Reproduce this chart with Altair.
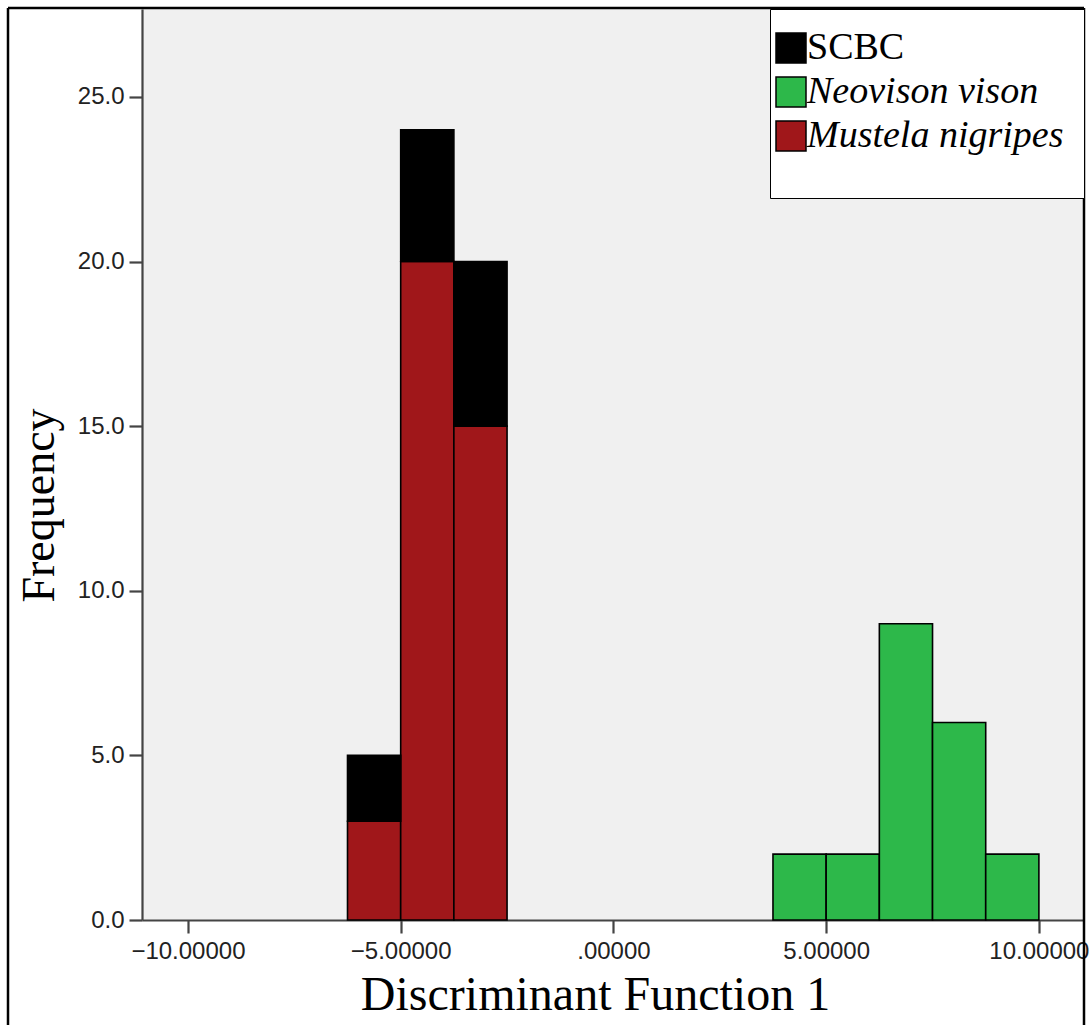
import altair as alt
import pandas as pd

# ---- data ----
bin_width = 1.25
mustela_starts = [-6.25, -5.0, -3.75]
mustela_counts = [3, 20, 15]
scbc_counts = [2, 4, 5]           # stacked on top of Mustela nigripes
neovison_starts = [3.75, 5.0, 6.25, 7.5, 8.75]
neovison_counts = [2, 2, 9, 6, 2]

species = ["SCBC", "Neovison vison", "Mustela nigripes"]
colors = ["#000000", "#2DB84A", "#A0171A"]

x_ticks = [-10, -5, 0, 5, 10]
y_ticks = [0, 5, 10, 15, 20, 25]
x_domain = [-11.08, 11.06]
y_domain = [0, 27.67]

rows = []
for s, c in zip(mustela_starts, mustela_counts):
    rows.append(dict(species="Mustela nigripes", x0=s, x1=s + bin_width, y0=0, y1=c))
for s, c, b in zip(mustela_starts, scbc_counts, mustela_counts):
    rows.append(dict(species="SCBC", x0=s, x1=s + bin_width, y0=b, y1=b + c))
for s, c in zip(neovison_starts, neovison_counts):
    rows.append(dict(species="Neovison vison", x0=s, x1=s + bin_width, y0=0, y1=c))
df = pd.DataFrame(rows)

W, H = 942, 911

bars = alt.Chart(df).mark_rect(stroke="black", strokeWidth=1.6).encode(
    x=alt.X(
        "x0:Q",
        scale=alt.Scale(domain=x_domain, nice=False, zero=False),
        axis=alt.Axis(
            values=x_ticks,
            labelExpr="datum.value == 0 ? '.00000' : format(datum.value, '.5f')",
            title="Discriminant Function 1",
            titleFont="Liberation Serif",
            titleFontSize=48,
            titleFontWeight="normal",
            titleColor="black",
            titlePadding=8,
            titleX=453,
            labelFlush=False,
            labelPadding=6,
        ),
    ),
    x2="x1:Q",
    y=alt.Y(
        "y0:Q",
        scale=alt.Scale(domain=y_domain, nice=False),
        axis=alt.Axis(
            values=y_ticks,
            format=".1f",
            title="Frequency",
            titleFont="Liberation Serif",
            titleFontSize=46,
            titleFontWeight="normal",
            titleColor="black",
            titlePadding=14,
            titleY=496,
            labelPadding=5,
        ),
    ),
    y2="y1:Q",
    color=alt.Color(
        "species:N",
        scale=alt.Scale(domain=species, range=colors),
        legend=alt.Legend(
            title=" ",
            titleOrient="bottom",
            titleFontSize=18,
            orient="top-right",
            offset=0,
            fillColor="white",
            strokeColor="black",
            padding=20,
            symbolType="square",
            symbolSize=900,
            symbolStrokeColor="black",
            symbolStrokeWidth=1.5,
            symbolOpacity=1,
            symbolOffset=-18,
            labelOffset=alt.ExprRef("-3"),
            labelFont="Liberation Serif",
            labelFontSize=38,
            labelColor="black",
            labelFontStyle=alt.ExprRef("datum.label == 'SCBC' ? 'normal' : 'italic'"),
            labelLimit=0,
            rowPadding=6,
        ),
    ),
)

frame_df = pd.DataFrame({"k": [0]})
frame_left = alt.Chart(frame_df).mark_rule(color="black", strokeWidth=2.5).encode(
    x=alt.value(-134), y=alt.value(-1), y2=alt.value(1020)
)
frame_top = alt.Chart(frame_df).mark_rule(color="black", strokeWidth=2.5).encode(
    x=alt.value(-134), x2=alt.value(942), y=alt.value(-1)
)
frame_right = alt.Chart(frame_df).mark_rule(color="black", strokeWidth=2.5).encode(
    x=alt.value(942), y=alt.value(-1), y2=alt.value(1020)
)

chart = (
    alt.layer(bars, frame_left, frame_top, frame_right)
    .properties(
        width=W,
        height=H,
        autosize=alt.AutoSizeParams(type="none"),
        padding={"left": 142, "top": 9, "right": 5, "bottom": 105},
        background="white",
    )
    .configure_view(fill="#F0F0F0", stroke=None)
    .configure_axis(
        grid=False,
        domainColor="#444444",
        domainWidth=2.2,
        tickColor="#444444",
        tickWidth=2.2,
        tickSize=13,
        labelFont="Liberation Sans",
        labelFontSize=24,
        labelColor="#222222",
    )
)

chart.save("out.html", embed_options={"renderer": "svg", "actions": False})
